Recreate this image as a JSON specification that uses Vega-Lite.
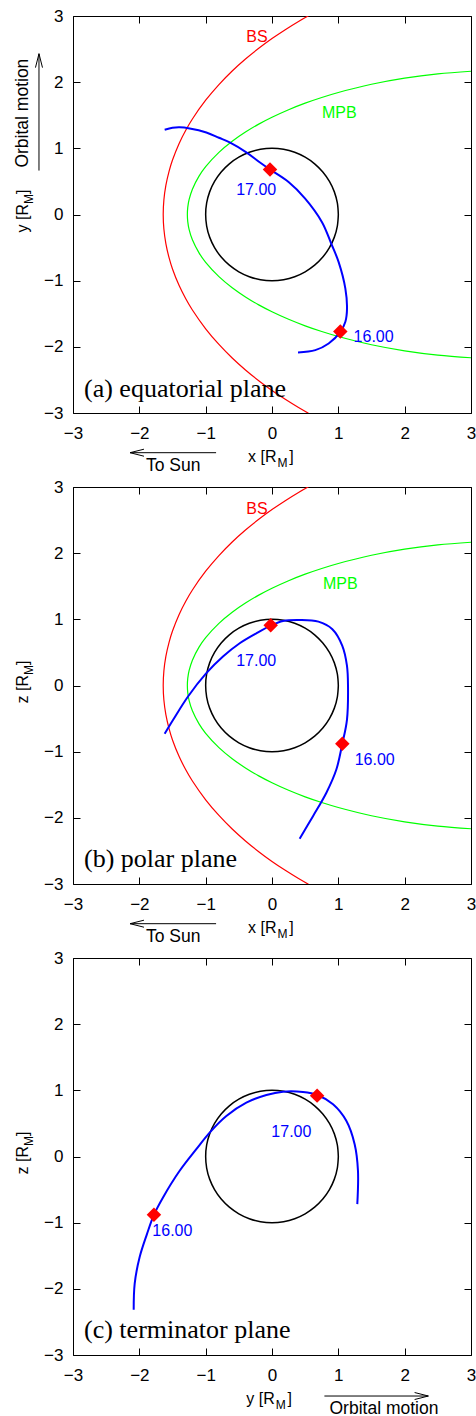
{
"$schema":"https://vega.github.io/schema/vega-lite/v6.json",
"autosize":"pad",
"padding":{"left":13,"top":7,"right":0,"bottom":0},
"spacing":74,
"bounds":"flush",
"config":{"view":{"stroke":null},"axis":{"grid":false,"domainColor":"black","tickColor":"black","labelColor":"black","labelFont":"Liberation Sans","labelFontSize":17,"tickSize":-7,"tickWidth":1,"domainWidth":1,"title":null,"labelFlush":false,"labelOverlap":false},"text":{"font":"Liberation Sans"}},
"datasets":{
"bs":[{"x":0.55,"y":3.004},{"x":0.4,"y":2.918},{"x":0.2,"y":2.794},{"x":0,"y":2.66},{"x":-0.2,"y":2.512},{"x":-0.4,"y":2.35},{"x":-0.6,"y":2.169},{"x":-0.8,"y":1.964},{"x":-1.0,"y":1.727},{"x":-1.2,"y":1.443},{"x":-1.3,"y":1.273},{"x":-1.4,"y":1.074},{"x":-1.5,"y":0.823},{"x":-1.55,"y":0.66},{"x":-1.6,"y":0.44},{"x":-1.63,"y":0.22},{"x":-1.64,"y":0},{"x":-1.63,"y":-0.22},{"x":-1.6,"y":-0.44},{"x":-1.55,"y":-0.66},{"x":-1.5,"y":-0.823},{"x":-1.4,"y":-1.074},{"x":-1.3,"y":-1.273},{"x":-1.2,"y":-1.443},{"x":-1.0,"y":-1.727},{"x":-0.8,"y":-1.964},{"x":-0.6,"y":-2.169},{"x":-0.4,"y":-2.35},{"x":-0.2,"y":-2.512},{"x":0,"y":-2.66},{"x":0.2,"y":-2.794},{"x":0.4,"y":-2.918},{"x":0.55,"y":-3.004}],
"mpb":[{"x":3.0,"y":2.165},{"x":2.5,"y":2.125},{"x":2.0,"y":2.06},{"x":1.5,"y":1.968},{"x":1.0,"y":1.844},{"x":0.75,"y":1.769},{"x":0.5,"y":1.683},{"x":0.25,"y":1.584},{"x":0,"y":1.47},{"x":-0.2,"y":1.366},{"x":-0.4,"y":1.246},{"x":-0.6,"y":1.107},{"x":-0.8,"y":0.939},{"x":-1.0,"y":0.723},{"x":-1.1,"y":0.58},{"x":-1.2,"y":0.383},{"x":-1.25,"y":0.224},{"x":-1.27,"y":0.107},{"x":-1.276,"y":0},{"x":-1.27,"y":-0.107},{"x":-1.25,"y":-0.224},{"x":-1.2,"y":-0.383},{"x":-1.1,"y":-0.58},{"x":-1.0,"y":-0.723},{"x":-0.8,"y":-0.939},{"x":-0.6,"y":-1.107},{"x":-0.4,"y":-1.246},{"x":-0.2,"y":-1.366},{"x":0,"y":-1.47},{"x":0.25,"y":-1.584},{"x":0.5,"y":-1.683},{"x":0.75,"y":-1.769},{"x":1.0,"y":-1.844},{"x":1.5,"y":-1.968},{"x":2.0,"y":-2.06},{"x":2.5,"y":-2.125},{"x":3.0,"y":-2.165}],
"circle":[{"x":1,"y":0},{"x":0.985,"y":0.174},{"x":0.94,"y":0.342},{"x":0.866,"y":0.5},{"x":0.766,"y":0.643},{"x":0.643,"y":0.766},{"x":0.5,"y":0.866},{"x":0.342,"y":0.94},{"x":0.174,"y":0.985},{"x":0,"y":1},{"x":-0.174,"y":0.985},{"x":-0.342,"y":0.94},{"x":-0.5,"y":0.866},{"x":-0.643,"y":0.766},{"x":-0.766,"y":0.643},{"x":-0.866,"y":0.5},{"x":-0.94,"y":0.342},{"x":-0.985,"y":0.174},{"x":-1,"y":0},{"x":-0.985,"y":-0.174},{"x":-0.94,"y":-0.342},{"x":-0.866,"y":-0.5},{"x":-0.766,"y":-0.643},{"x":-0.643,"y":-0.766},{"x":-0.5,"y":-0.866},{"x":-0.342,"y":-0.94},{"x":-0.174,"y":-0.985},{"x":0,"y":-1},{"x":0.174,"y":-0.985},{"x":0.342,"y":-0.94},{"x":0.5,"y":-0.866},{"x":0.643,"y":-0.766},{"x":0.766,"y":-0.643},{"x":0.866,"y":-0.5},{"x":0.94,"y":-0.342},{"x":0.985,"y":-0.174},{"x":1,"y":0}],
"sunArrow":[{"x":-2.14,"y":-3.6,"x2":-0.843,"y2":-3.6},{"x":-2.14,"y":-3.6,"x2":-1.93,"y2":-3.547},{"x":-2.14,"y":-3.6,"x2":-1.93,"y2":-3.653}]
},
"vconcat":[
{
"width":398,"height":397,
"encoding":{"x":{"field":"x","type":"quantitative","scale":{"domain":[-3,3],"nice":false,"zero":false},"axis":null},"y":{"field":"y","type":"quantitative","scale":{"domain":[-3,3],"nice":false,"zero":false},"axis":null}},
"layer":[
{"data":{"name":"bs"},"mark":{"type":"line","color":"#ff0000","strokeWidth":1.2,"clip":true,"interpolate":"catmull-rom"},"encoding":{"order":{"value":null}}},
{"data":{"name":"mpb"},"mark":{"type":"line","color":"#00ff00","strokeWidth":1.2,"clip":true,"interpolate":"catmull-rom"},"encoding":{"order":{"value":null}}},
{"data":{"name":"circle"},"mark":{"type":"line","color":"black","strokeWidth":1.5,"interpolate":"catmull-rom"},"encoding":{"order":{"value":null},
"x":{"field":"x","type":"quantitative","scale":{"domain":[-3,3],"nice":false,"zero":false},"axis":{"orient":"bottom","values":[-3,-2,-1,0,1,2,3],"format":"d","labelPadding":19}},
"y":{"field":"y","type":"quantitative","scale":{"domain":[-3,3],"nice":false,"zero":false},"axis":{"orient":"left","values":[-3,-2,-1,0,1,2,3],"format":"d","labelPadding":17}}}},
{"data":{"values":[{"x":-1.618,"y":1.281},{"x":-1.5,"y":1.31},{"x":-1.392,"y":1.317},{"x":-1.241,"y":1.3},{"x":-0.99,"y":1.24},{"x":-0.8,"y":1.16},{"x":-0.638,"y":1.09},{"x":-0.387,"y":0.94},{"x":-0.186,"y":0.79},{"x":-0.03,"y":0.68},{"x":0.25,"y":0.49},{"x":0.5,"y":0.24},{"x":0.754,"y":-0.116},{"x":0.894,"y":-0.442},{"x":1.005,"y":-0.72},{"x":1.106,"y":-1.12},{"x":1.131,"y":-1.42},{"x":1.106,"y":-1.62},{"x":1.03,"y":-1.774},{"x":0.854,"y":-1.95},{"x":0.653,"y":-2.05},{"x":0.392,"y":-2.085}]},
"mark":{"type":"line","color":"#0000ff","strokeWidth":2,"interpolate":"catmull-rom"},"encoding":{"order":{"value":null},
"x":{"field":"x","type":"quantitative","scale":{"domain":[-3,3],"nice":false,"zero":false},"axis":{"orient":"top","values":[-3,-2,-1,0,1,2,3],"labels":false}},
"y":{"field":"y","type":"quantitative","scale":{"domain":[-3,3],"nice":false,"zero":false},"axis":{"orient":"right","values":[-3,-2,-1,0,1,2,3],"labels":false}}}},
{"data":{"values":[{"x":-0.03,"y":0.68},{"x":1.03,"y":-1.77}]},"mark":{"type":"point","shape":"diamond","filled":true,"color":"#ff0000","opacity":1,"size":210}},
{"data":{"values":[{"x":-0.54,"y":0.377,"t":"17.00"},{"x":1.23,"y":-1.85,"t":"16.00"}]},"mark":{"type":"text","color":"#0000ff","fontSize":16,"align":"left","baseline":"middle"},"encoding":{"text":{"field":"t"}}},
{"data":{"values":[{"x":-0.387,"y":2.69,"t":"BS"}]},"mark":{"type":"text","color":"#ff0000","fontSize":16,"align":"left","baseline":"middle"},"encoding":{"text":{"field":"t"}}},
{"data":{"values":[{"x":0.754,"y":1.54,"t":"MPB"}]},"mark":{"type":"text","color":"#00ff00","fontSize":16,"align":"left","baseline":"middle"},"encoding":{"text":{"field":"t"}}},
{"data":{"values":[{"x":-2.834,"y":-2.76,"t":"(a) equatorial plane"}]},"mark":{"type":"text","font":"Liberation Serif","fontSize":26,"align":"left","baseline":"alphabetic","color":"black"},"encoding":{"text":{"field":"t"}}},
{"data":{"values":[{"x":-0.36,"y":-3.735,"t":"x [R"},{"x":0.26,"y":-3.735,"t":"]"}]},"mark":{"type":"text","fontSize":16,"align":"left","baseline":"alphabetic","color":"black"},"encoding":{"text":{"field":"t"}}},
{"data":{"values":[{"x":0.083,"y":-3.81,"t":"M"}]},"mark":{"type":"text","fontSize":12,"align":"left","baseline":"alphabetic","color":"black"},"encoding":{"text":{"field":"t"}}},
{"data":{"values":[{"x":-3.674,"y":-0.271,"t":"y [R"},{"x":-3.674,"y":0.31,"t":"]"}]},"mark":{"type":"text","fontSize":16,"align":"left","baseline":"alphabetic","angle":270,"color":"black"},"encoding":{"text":{"field":"t"}}},
{"data":{"values":[{"x":-3.6,"y":0.157,"t":"M"}]},"mark":{"type":"text","fontSize":12,"align":"left","baseline":"alphabetic","angle":270,"color":"black"},"encoding":{"text":{"field":"t"}}},
{"data":{"name":"sunArrow"},"mark":{"type":"rule","color":"black","strokeWidth":1},"encoding":{"x2":{"field":"x2"},"y2":{"field":"y2"}}},
{"data":{"values":[{"x":-1.9,"y":-3.875,"t":"To Sun"}]},"mark":{"type":"text","fontSize":17.5,"align":"left","baseline":"alphabetic","color":"black"},"encoding":{"text":{"field":"t"}}},
{"data":{"values":[{"x":-3.513,"y":0.664,"x2":-3.513,"y2":2.43},{"x":-3.513,"y":2.43,"x2":-3.566,"y2":2.22},{"x":-3.513,"y":2.43,"x2":-3.46,"y2":2.22}]},"mark":{"type":"rule","color":"black","strokeWidth":1},"encoding":{"x2":{"field":"x2"},"y2":{"field":"y2"}}},
{"data":{"values":[{"x":-3.683,"y":0.709,"t":"Orbital motion"}]},"mark":{"type":"text","fontSize":17.5,"align":"left","baseline":"alphabetic","angle":270,"color":"black"},"encoding":{"text":{"field":"t"}}}
],
"resolve":{"axis":{"x":"independent","y":"independent"}}
},
{
"width":398,"height":397,
"encoding":{"x":{"field":"x","type":"quantitative","scale":{"domain":[-3,3],"nice":false,"zero":false},"axis":null},"y":{"field":"y","type":"quantitative","scale":{"domain":[-3,3],"nice":false,"zero":false},"axis":null}},
"layer":[
{"data":{"name":"bs"},"mark":{"type":"line","color":"#ff0000","strokeWidth":1.2,"clip":true,"interpolate":"catmull-rom"},"encoding":{"order":{"value":null}}},
{"data":{"name":"mpb"},"mark":{"type":"line","color":"#00ff00","strokeWidth":1.2,"clip":true,"interpolate":"catmull-rom"},"encoding":{"order":{"value":null}}},
{"data":{"name":"circle"},"mark":{"type":"line","color":"black","strokeWidth":1.5,"interpolate":"catmull-rom"},"encoding":{"order":{"value":null},
"x":{"field":"x","type":"quantitative","scale":{"domain":[-3,3],"nice":false,"zero":false},"axis":{"orient":"bottom","values":[-3,-2,-1,0,1,2,3],"format":"d","labelPadding":19}},
"y":{"field":"y","type":"quantitative","scale":{"domain":[-3,3],"nice":false,"zero":false},"axis":{"orient":"left","values":[-3,-2,-1,0,1,2,3],"format":"d","labelPadding":17}}}},
{"data":{"values":[{"x":-1.618,"y":-0.729},{"x":-1.49,"y":-0.518},{"x":-1.266,"y":-0.166},{"x":-0.99,"y":0.186},{"x":-0.739,"y":0.437},{"x":-0.487,"y":0.638},{"x":-0.236,"y":0.789},{"x":-0.02,"y":0.905},{"x":0.166,"y":0.975},{"x":0.417,"y":0.99},{"x":0.7,"y":0.965},{"x":0.91,"y":0.85},{"x":1.06,"y":0.6},{"x":1.13,"y":0.3},{"x":1.146,"y":-0.015},{"x":1.13,"y":-0.518},{"x":1.06,"y":-0.88},{"x":0.97,"y":-1.27},{"x":0.82,"y":-1.62},{"x":0.618,"y":-1.975},{"x":0.417,"y":-2.317}]},
"mark":{"type":"line","color":"#0000ff","strokeWidth":2,"interpolate":"catmull-rom"},"encoding":{"order":{"value":null},
"x":{"field":"x","type":"quantitative","scale":{"domain":[-3,3],"nice":false,"zero":false},"axis":{"orient":"top","values":[-3,-2,-1,0,1,2,3],"labels":false}},
"y":{"field":"y","type":"quantitative","scale":{"domain":[-3,3],"nice":false,"zero":false},"axis":{"orient":"right","values":[-3,-2,-1,0,1,2,3],"labels":false}}}},
{"data":{"values":[{"x":-0.02,"y":0.91},{"x":1.06,"y":-0.88}]},"mark":{"type":"point","shape":"diamond","filled":true,"color":"#ff0000","opacity":1,"size":210}},
{"data":{"values":[{"x":-0.54,"y":0.377,"t":"17.00"},{"x":1.246,"y":-1.13,"t":"16.00"}]},"mark":{"type":"text","color":"#0000ff","fontSize":16,"align":"left","baseline":"middle"},"encoding":{"text":{"field":"t"}}},
{"data":{"values":[{"x":-0.387,"y":2.67,"t":"BS"}]},"mark":{"type":"text","color":"#ff0000","fontSize":16,"align":"left","baseline":"middle"},"encoding":{"text":{"field":"t"}}},
{"data":{"values":[{"x":0.769,"y":1.54,"t":"MPB"}]},"mark":{"type":"text","color":"#00ff00","fontSize":16,"align":"left","baseline":"middle"},"encoding":{"text":{"field":"t"}}},
{"data":{"values":[{"x":-2.834,"y":-2.75,"t":"(b) polar plane"}]},"mark":{"type":"text","font":"Liberation Serif","fontSize":26,"align":"left","baseline":"alphabetic","color":"black"},"encoding":{"text":{"field":"t"}}},
{"data":{"values":[{"x":-0.36,"y":-3.735,"t":"x [R"},{"x":0.26,"y":-3.735,"t":"]"}]},"mark":{"type":"text","fontSize":16,"align":"left","baseline":"alphabetic","color":"black"},"encoding":{"text":{"field":"t"}}},
{"data":{"values":[{"x":0.083,"y":-3.81,"t":"M"}]},"mark":{"type":"text","fontSize":12,"align":"left","baseline":"alphabetic","color":"black"},"encoding":{"text":{"field":"t"}}},
{"data":{"values":[{"x":-3.674,"y":-0.271,"t":"z [R"},{"x":-3.674,"y":0.31,"t":"]"}]},"mark":{"type":"text","fontSize":16,"align":"left","baseline":"alphabetic","angle":270,"color":"black"},"encoding":{"text":{"field":"t"}}},
{"data":{"values":[{"x":-3.6,"y":0.157,"t":"M"}]},"mark":{"type":"text","fontSize":12,"align":"left","baseline":"alphabetic","angle":270,"color":"black"},"encoding":{"text":{"field":"t"}}},
{"data":{"name":"sunArrow"},"mark":{"type":"rule","color":"black","strokeWidth":1},"encoding":{"x2":{"field":"x2"},"y2":{"field":"y2"}}},
{"data":{"values":[{"x":-1.9,"y":-3.875,"t":"To Sun"}]},"mark":{"type":"text","fontSize":17.5,"align":"left","baseline":"alphabetic","color":"black"},"encoding":{"text":{"field":"t"}}}
],
"resolve":{"axis":{"x":"independent","y":"independent"}}
},
{
"width":398,"height":397,
"encoding":{"x":{"field":"x","type":"quantitative","scale":{"domain":[-3,3],"nice":false,"zero":false},"axis":null},"y":{"field":"y","type":"quantitative","scale":{"domain":[-3,3],"nice":false,"zero":false},"axis":null}},
"layer":[
{"data":{"name":"circle"},"mark":{"type":"line","color":"black","strokeWidth":1.5,"interpolate":"catmull-rom"},"encoding":{"order":{"value":null},
"x":{"field":"x","type":"quantitative","scale":{"domain":[-3,3],"nice":false,"zero":false},"axis":{"orient":"bottom","values":[-3,-2,-1,0,1,2,3],"format":"d","labelPadding":19}},
"y":{"field":"y","type":"quantitative","scale":{"domain":[-3,3],"nice":false,"zero":false},"axis":{"orient":"left","values":[-3,-2,-1,0,1,2,3],"format":"d","labelPadding":17}}}},
{"data":{"values":[{"x":-2.085,"y":-2.317},{"x":-2.07,"y":-1.92},{"x":-1.995,"y":-1.52},{"x":-1.884,"y":-1.17},{"x":-1.779,"y":-0.879},{"x":-1.643,"y":-0.618},{"x":-1.392,"y":-0.216},{"x":-1.141,"y":0.111},{"x":-0.94,"y":0.362},{"x":-0.688,"y":0.613},{"x":-0.387,"y":0.814},{"x":-0.085,"y":0.93},{"x":0.166,"y":0.98},{"x":0.467,"y":0.975},{"x":0.683,"y":0.93},{"x":0.92,"y":0.789},{"x":1.12,"y":0.54},{"x":1.246,"y":0.186},{"x":1.296,"y":-0.216},{"x":1.286,"y":-0.719}]},
"mark":{"type":"line","color":"#0000ff","strokeWidth":2,"interpolate":"catmull-rom"},"encoding":{"order":{"value":null},
"x":{"field":"x","type":"quantitative","scale":{"domain":[-3,3],"nice":false,"zero":false},"axis":{"orient":"top","values":[-3,-2,-1,0,1,2,3],"labels":false}},
"y":{"field":"y","type":"quantitative","scale":{"domain":[-3,3],"nice":false,"zero":false},"axis":{"orient":"right","values":[-3,-2,-1,0,1,2,3],"labels":false}}}},
{"data":{"values":[{"x":-1.78,"y":-0.88},{"x":0.68,"y":0.92}]},"mark":{"type":"point","shape":"diamond","filled":true,"color":"#ff0000","opacity":1,"size":210}},
{"data":{"values":[{"x":-0.01,"y":0.377,"t":"17.00"},{"x":-1.804,"y":-1.12,"t":"16.00"}]},"mark":{"type":"text","color":"#0000ff","fontSize":16,"align":"left","baseline":"middle"},"encoding":{"text":{"field":"t"}}},
{"data":{"values":[{"x":-2.834,"y":-2.75,"t":"(c) terminator plane"}]},"mark":{"type":"text","font":"Liberation Serif","fontSize":26,"align":"left","baseline":"alphabetic","color":"black"},"encoding":{"text":{"field":"t"}}},
{"data":{"values":[{"x":-0.387,"y":-3.736,"t":"y [R"},{"x":0.233,"y":-3.736,"t":"]"}]},"mark":{"type":"text","fontSize":16,"align":"left","baseline":"alphabetic","color":"black"},"encoding":{"text":{"field":"t"}}},
{"data":{"values":[{"x":0.056,"y":-3.81,"t":"M"}]},"mark":{"type":"text","fontSize":12,"align":"left","baseline":"alphabetic","color":"black"},"encoding":{"text":{"field":"t"}}},
{"data":{"values":[{"x":-3.674,"y":-0.271,"t":"z [R"},{"x":-3.674,"y":0.31,"t":"]"}]},"mark":{"type":"text","fontSize":16,"align":"left","baseline":"alphabetic","angle":270,"color":"black"},"encoding":{"text":{"field":"t"}}},
{"data":{"values":[{"x":-3.6,"y":0.157,"t":"M"}]},"mark":{"type":"text","fontSize":12,"align":"left","baseline":"alphabetic","angle":270,"color":"black"},"encoding":{"text":{"field":"t"}}},
{"data":{"values":[{"x":0.79,"y":-3.62,"x2":2.357,"y2":-3.62},{"x":2.357,"y":-3.62,"x2":2.15,"y2":-3.567},{"x":2.357,"y":-3.62,"x2":2.15,"y2":-3.673}]},"mark":{"type":"rule","color":"black","strokeWidth":1},"encoding":{"x2":{"field":"x2"},"y2":{"field":"y2"}}},
{"data":{"values":[{"x":0.867,"y":-3.887,"t":"Orbital motion"}]},"mark":{"type":"text","fontSize":17.5,"align":"left","baseline":"alphabetic","color":"black"},"encoding":{"text":{"field":"t"}}}
],
"resolve":{"axis":{"x":"independent","y":"independent"}}
}
]
}
